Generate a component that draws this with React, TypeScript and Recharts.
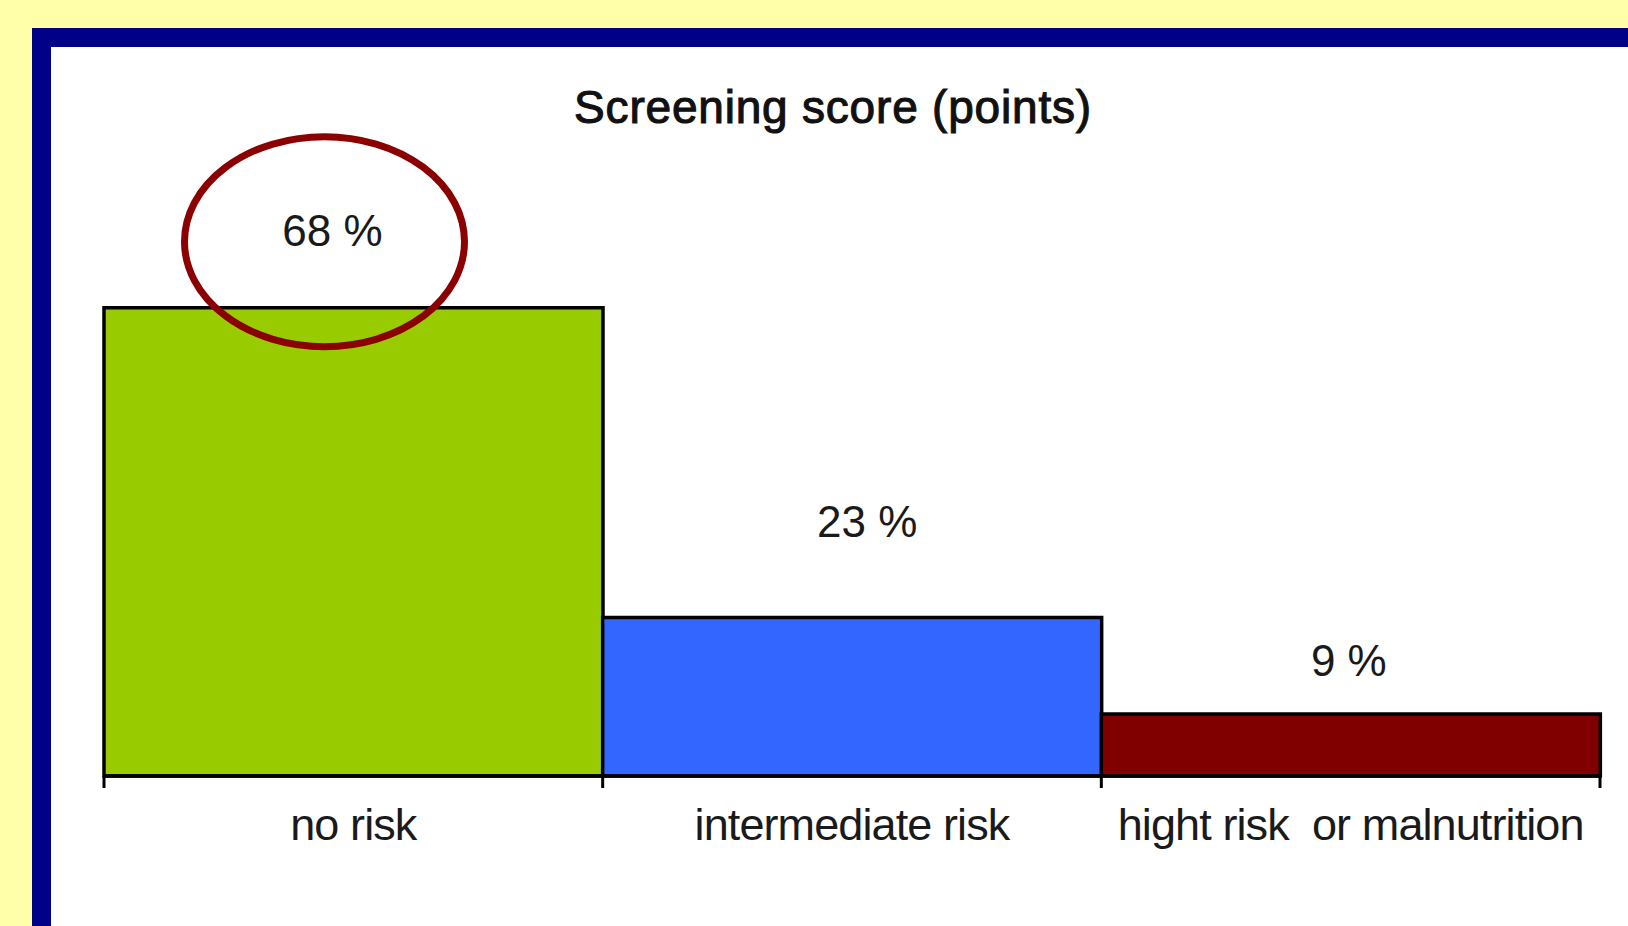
import React from "react";
import { Bar, BarChart, Cell, LabelList, XAxis, YAxis } from "recharts";

const categories = ["no risk", "intermediate risk", "hight risk  or malnutrition"];
const shares = [68, 23, 9];
const valueLabels = ["68 %", "23 %", "9 %"];
const barColors = ["#99CC00", "#3366FF", "#800000"];
const circledIndex = 0;

// the value labels were placed by hand in the original, so nudge each one
const labelNudge = [
  { dx: -21, lift: 62 },
  { dx: 15, lift: 81 },
  { dx: -2, lift: 38 },
];

const W = 1628;
const H = 926;
const margin = { top: 225, right: 28, bottom: 90, left: 104 };
const AXIS_H = 60;
const band = (W - margin.left - margin.right) / categories.length;
const FONT = '"Liberation Sans", Arial, sans-serif';
const INK = "#1a1a1a";

const data = categories.map((name, i) => ({
  name,
  value: shares[i],
  label: valueLabels[i],
}));

const ValueLabel = (props: any) => {
  const vb = props.viewBox ?? props;
  const { x, y, width } = vb;
  const i = props.index ?? valueLabels.indexOf(props.value);
  const cx = x + width / 2 + labelNudge[i].dx;
  const base = y - labelNudge[i].lift;
  return (
    <g>
      <text
        x={cx}
        y={base}
        textAnchor="middle"
        fontSize={44}
        fontFamily={FONT}
        fill={INK}
      >
        {props.value}
      </text>
      {i === circledIndex && (
        <ellipse
          cx={cx - 8}
          cy={base - 4}
          rx={140}
          ry={105}
          fill="none"
          stroke="#8B0000"
          strokeWidth={7}
        />
      )}
    </g>
  );
};

const AxisTick = (props: any) => {
  const { x, y, payload } = props;
  const i = payload?.index ?? props.index;
  const left = x - band / 2;
  const right = x + band / 2;
  return (
    <g>
      <line x1={left} x2={left} y1={y} y2={y + 12} stroke="#000" strokeWidth={3} />
      {i === categories.length - 1 && (
        <line x1={right} x2={right} y1={y} y2={y + 12} stroke="#000" strokeWidth={3} />
      )}
      <text
        x={x}
        y={y + 64}
        textAnchor="middle"
        fontSize={45}
        letterSpacing={-0.9}
        fontFamily={FONT}
        fill={INK}
        style={{ whiteSpace: "pre" }}
      >
        {payload.value}
      </text>
    </g>
  );
};

export default function App() {
  return (
    <div
      style={{
        position: "fixed",
        left: 0,
        top: 0,
        width: W,
        height: H,
        background: "#FFFFAA",
        overflow: "hidden",
      }}
    >
      <div
        style={{
          position: "absolute",
          left: 32,
          top: 28,
          right: 0,
          bottom: 0,
          background: "#fff",
          borderLeft: "19px solid #000088",
          borderTop: "19px solid #000088",
        }}
      />
      <div style={{ position: "absolute", left: 0, top: 0 }}>
        <BarChart
          width={W}
          height={H}
          data={data}
          margin={margin}
          barCategoryGap={0}
        >
          <XAxis
            dataKey="name"
            interval={0}
            height={AXIS_H}
            tickSize={0}
            tickMargin={0}
            tickLine={false}
            axisLine={{ stroke: "#000", strokeWidth: 3.5 }}
            tick={<AxisTick />}
          />
          <YAxis hide domain={[0, 80]} />
          <Bar
            dataKey="value"
            stroke="#000"
            strokeWidth={3.5}
            isAnimationActive={false}
          >
            {data.map((d, i) => (
              <Cell key={d.name} fill={barColors[i]} />
            ))}
            <LabelList dataKey="label" content={<ValueLabel />} />
          </Bar>
        </BarChart>
      </div>
      <svg
        width={W}
        height={H}
        style={{ position: "absolute", left: 0, top: 0, pointerEvents: "none" }}
      >
        <text
          x={833}
          y={123}
          textAnchor="middle"
          fontSize={46}
          letterSpacing={0.8}
          fontFamily={FONT}
          fill="#111"
          stroke="#111"
          strokeWidth={1.1}
        >
          Screening score (points)
        </text>
      </svg>
    </div>
  );
}
